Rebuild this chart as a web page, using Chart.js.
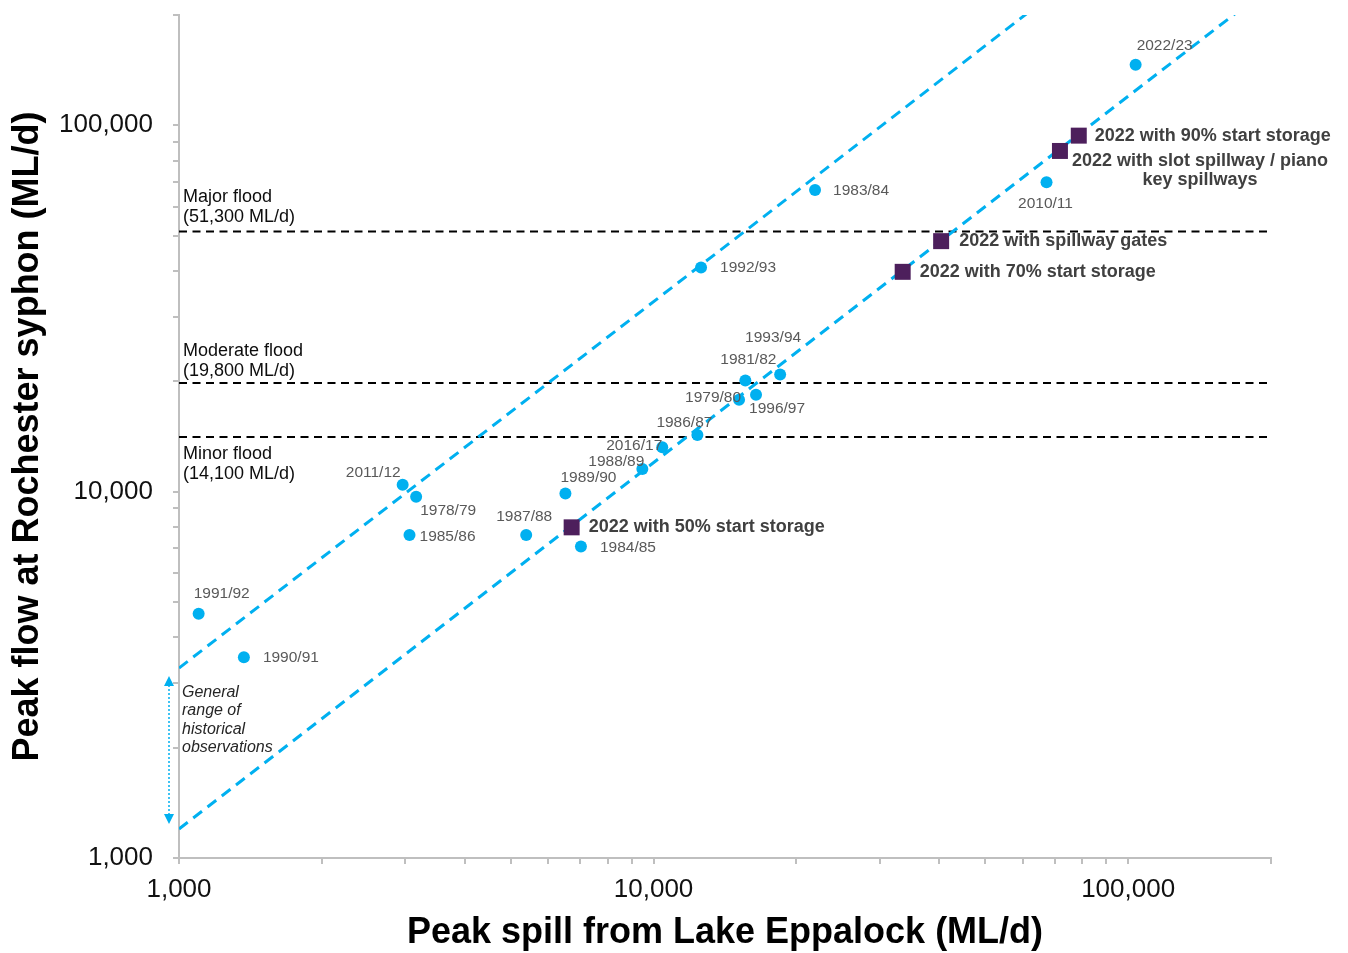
<!DOCTYPE html>
<html>
<head>
<meta charset="utf-8">
<script src="https://cdn.jsdelivr.net/npm/chart.js@4.4.0/dist/chart.umd.min.js"></script>
<style>
    body { margin: 0; background: #fff; }
    #wrap { width: 1348px; height: 953px; }
</style>
</head>
<body>
<div id="wrap"><canvas id="flood-chart"></canvas></div>
<script>
const FONT = '"Liberation Sans", Arial, sans-serif';

// historical events: peak spill (x) vs peak flow at Rochester (y), ML/d
const histLabels = ["1978/79", "1979/80", "1981/82", "1983/84", "1984/85", "1985/86", "1986/87",
    "1987/88", "1988/89", "1989/90", "1990/91", "1991/92", "1992/93", "1993/94", "1996/97",
    "2010/11", "2011/12", "2016/17", "2022/23"];
const histSpill = [3160, 15140, 15610, 21890, 7030, 3060, 12370,
    5390, 9470, 6520, 1370, 1100, 12590, 18480, 16440,
    67300, 2960, 10430, 103700];
const histFlow = [9690, 17820, 20120, 66600, 7080, 7620, 14280,
    7620, 11530, 9880, 3530, 4640, 40900, 20890, 18380,
    69900, 10450, 13210, 146300];

// 2022 event scenarios
const scenLabels = [["2022 with 50% start storage"], ["2022 with 70% start storage"],
    ["2022 with spillway gates"], ["2022 with slot spillway / piano", "key spillways"],
    ["2022 with 90% start storage"]];
const scenSpill = [6720, 33490, 40360, 71830, 78700];
const scenFlow = [7990, 39810, 48280, 85100, 93700];

// flood thresholds at Rochester
const floodNames = ["Major flood", "Moderate flood", "Minor flood"];
const floodLevels = [51300, 19800, 14100];

// general range of historical observations: flow = ratio * spill
const envelopeRatios = [1.2, 3.3];

const axisTicks = [1000, 2000, 3000, 4000, 5000, 6000, 7000, 8000, 9000,
    10000, 20000, 30000, 40000, 50000, 60000, 70000, 80000, 90000,
    100000, 200000];
const tickLabels = [1000, 10000, 100000];

// label placement (px offset from the marker, alignment)
const histLabelPos = [[4, 14, "left"], [2, -2, "right"], [3, -21, "center"], [18, 1, "left"],
    [19, 1, "left"], [10, 2, "left"], [15, -12, "right"], [-2, -18, "center"], [2, -7, "right"],
    [-5, -16, "left"], [19, 0, "left"], [-5, -20, "left"], [19, 0, "left"], [-7, -37, "center"],
    [-7, 14, "left"], [-1, 21, "center"], [-2, -12, "right"], [0, -2, "right"], [1, -19, "left"]];
const scenLabelPos = [[17, 0, "left"], [17, 0, "left"], [18, 0, "left"], [140, 10, "center"], [16, 0, "left"]];
const floodTextPos = [[-29, -9], [-27, -7], [22, 42]];

const toPoints = (xs, ys) => xs.map((x, i) => ({ x: x, y: ys[i] }));

let datasets = [
    {
        label: "Scenarios",
        data: toPoints(scenSpill, scenFlow),
        pointStyle: "rect",
        pointRadius: 11.3,
        backgroundColor: "#4d1f5c",
        borderWidth: 0,
    },
    {
        label: "Historical",
        data: toPoints(histSpill, histFlow),
        pointRadius: 6,
        backgroundColor: "#00b0f0",
        borderWidth: 0,
    },
];
envelopeRatios.forEach(r => {
    datasets.push({
        data: [{ x: 1000, y: 1000 * r }, { x: 200000, y: 200000 * r }],
        showLine: true,
        pointRadius: 0,
        borderColor: "#00b0f0",
        borderWidth: 3,
        borderDash: [11, 7],
    });
});
floodLevels.forEach(v => {
    datasets.push({
        data: [{ x: 1000, y: v }, { x: 200000, y: v }],
        showLine: true,
        pointRadius: 0,
        borderColor: "#000",
        borderWidth: 2,
        borderDash: [8, 5.5],
    });
});

const labelPlugin = {
    id: "labels",
    afterDatasetsDraw(chart) {
        const ctx = chart.ctx;
        const area = chart.chartArea;
        const ys = chart.scales.y;
        ctx.save();

        // flood level captions
        ctx.font = "18px " + FONT;
        ctx.fillStyle = "#0d0d0d";
        ctx.textAlign = "left";
        ctx.textBaseline = "alphabetic";
        floodLevels.forEach((v, i) => {
            const y = ys.getPixelForValue(v);
            ctx.fillText(floodNames[i], area.left + 4, y + floodTextPos[i][0]);
            ctx.fillText("(" + v.toLocaleString("en-US") + " ML/d)", area.left + 4, y + floodTextPos[i][1]);
        });

        ctx.textBaseline = "middle";
        // historical year labels
        ctx.font = "15.5px " + FONT;
        ctx.fillStyle = "#595959";
        chart.getDatasetMeta(1).data.forEach((pt, i) => {
            const p = histLabelPos[i];
            ctx.textAlign = p[2];
            ctx.fillText(histLabels[i], pt.x + p[0], pt.y + p[1]);
        });

        // scenario labels
        ctx.font = "bold 18px " + FONT;
        ctx.fillStyle = "#404040";
        chart.getDatasetMeta(0).data.forEach((pt, i) => {
            const p = scenLabelPos[i];
            ctx.textAlign = p[2];
            scenLabels[i].forEach((line, k) => {
                ctx.fillText(line, pt.x + p[0], pt.y + p[1] + k * 19);
            });
        });
        ctx.restore();
    },
    afterDraw(chart) {
        const ctx = chart.ctx;
        const area = chart.chartArea;
        const xs = chart.scales.x, ys = chart.scales.y;
        const ax = area.left - 10;
        const yTop = ys.getPixelForValue(envelopeRatios[1] * xs.min) + 8;
        const yBot = ys.getPixelForValue(envelopeRatios[0] * xs.min) - 5;
        ctx.save();
        ctx.strokeStyle = "#00b0f0";
        ctx.fillStyle = "#00b0f0";
        ctx.lineWidth = 1.5;
        ctx.setLineDash([2, 2]);
        ctx.beginPath();
        ctx.moveTo(ax, yTop + 9);
        ctx.lineTo(ax, yBot - 9);
        ctx.stroke();
        ctx.setLineDash([]);
        ctx.beginPath();
        ctx.moveTo(ax, yTop);
        ctx.lineTo(ax - 5, yTop + 10);
        ctx.lineTo(ax + 5, yTop + 10);
        ctx.closePath();
        ctx.moveTo(ax, yBot);
        ctx.lineTo(ax - 5, yBot - 10);
        ctx.lineTo(ax + 5, yBot - 10);
        ctx.closePath();
        ctx.fill();

        ctx.font = "italic 16px " + FONT;
        ctx.fillStyle = "#262626";
        ctx.textAlign = "left";
        ctx.textBaseline = "alphabetic";
        ["General", "range of", "historical", "observations"].forEach((t, k) => {
            ctx.fillText(t, area.left + 3, yTop + 21 + k * 18.3);
        });
        ctx.restore();
    },
};

const axisOpts = (title, isX) => ({
    type: "logarithmic",
    min: 1000,
    max: 200000,
    afterBuildTicks: (s) => { s.ticks = axisTicks.map(v => ({ value: v })); },
    afterFit: (s) => {
        if (isX) {
            s.height = 95;
            s.paddingLeft = 0;
            s.paddingRight = 0;
        } else {
            s.width = 179;
            s.paddingTop = 0;
            s.paddingBottom = 0;
        }
    },
    ticks: {
        autoSkip: false,
        maxRotation: 0,
        padding: isX ? 10 : 20,
        color: "#111",
        font: { size: 26, family: FONT },
        callback: (v) => tickLabels.includes(v) ? v.toLocaleString("en-US") : "",
    },
    grid: { drawOnChartArea: false, tickLength: 6, color: "#bfbfbf", lineWidth: 2 },
    border: { color: "#bfbfbf", width: 2 },
    title: {
        display: true,
        text: title,
        color: "#000",
        font: { size: 36, weight: "bold", family: FONT, lineHeight: isX ? 1.1 : 1.2 },
        padding: isX ? { top: 0, bottom: 0 } : { top: 6, bottom: 0 },
    },
});

let floodChart = new Chart(document.getElementById("flood-chart").getContext("2d"), {
    type: "scatter",
    data: { datasets: datasets },
    options: {
        responsive: true,
        maintainAspectRatio: false,
        animation: false,
        layout: { padding: { top: 15, right: 77, left: 0, bottom: 0 } },
        plugins: {
            legend: { display: false },
            tooltip: { enabled: false },
        },
        scales: {
            x: axisOpts("Peak spill from Lake Eppalock (ML/d)", true),
            y: axisOpts("Peak flow at Rochester syphon (ML/d)", false),
        },
    },
    plugins: [labelPlugin],
});
</script>
</body>
</html>
